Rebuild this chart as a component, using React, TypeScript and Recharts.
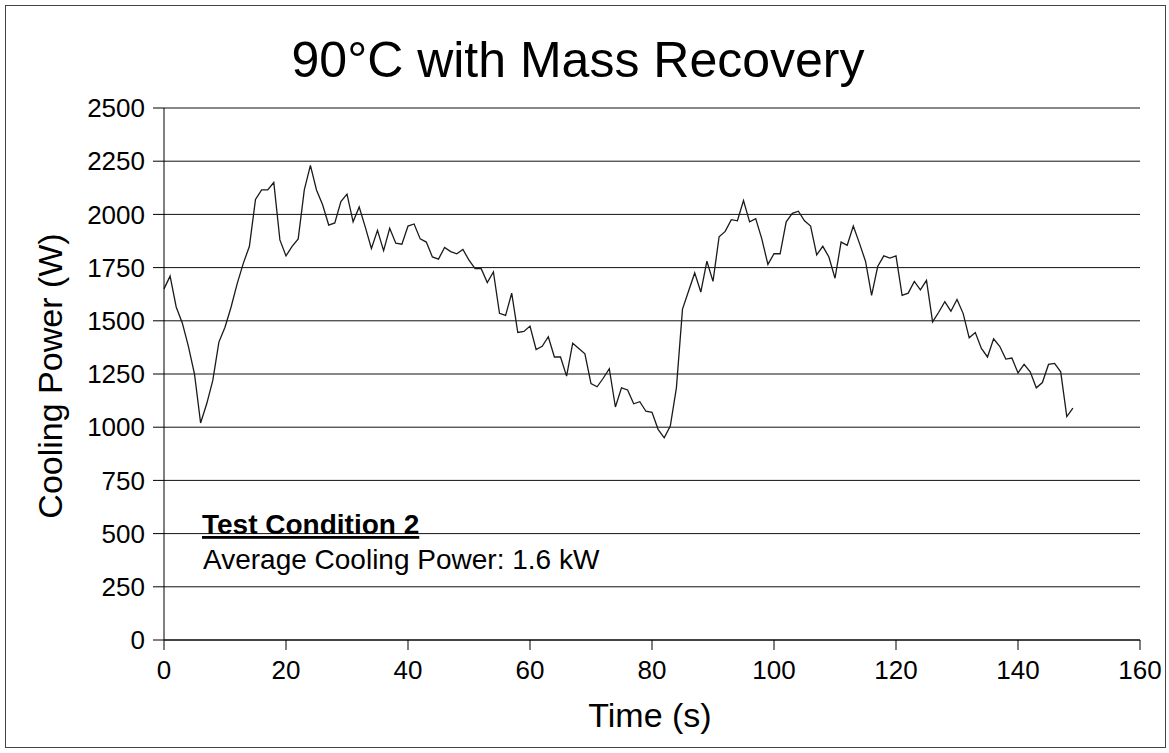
import React from 'react';
import { LineChart, Line, XAxis, YAxis, CartesianGrid, Label } from 'recharts';

const timeSeconds = [
  0, 1, 2, 3, 4, 5, 6, 7, 8, 9, 10, 11, 12, 13, 14, 15, 16, 17, 18, 19,
  20, 21, 22, 23, 24, 25, 26, 27, 28, 29, 30, 31, 32, 33, 34, 35, 36, 37, 38, 39,
  40, 41, 42, 43, 44, 45, 46, 47, 48, 49, 50, 51, 52, 53, 54, 55, 56, 57, 58, 59,
  60, 61, 62, 63, 64, 65, 66, 67, 68, 69, 70, 71, 72, 73, 74, 75, 76, 77, 78, 79,
  80, 81, 82, 83, 84, 85, 86, 87, 88, 89, 90, 91, 92, 93, 94, 95, 96, 97, 98, 99,
  100, 101, 102, 103, 104, 105, 106, 107, 108, 109, 110, 111, 112, 113, 114, 115, 116, 117, 118, 119,
  120, 121, 122, 123, 124, 125, 126, 127, 128, 129, 130, 131, 132, 133, 134, 135, 136, 137, 138, 139,
  140, 141, 142, 143, 144, 145, 146, 147, 148, 149,
];

const coolingPower = [
  1650, 1710, 1565, 1490, 1380, 1250, 1020, 1110, 1220, 1400,
  1470, 1565, 1675, 1770, 1850, 2070, 2115, 2115, 2150, 1880,
  1805, 1850, 1885, 2115, 2230, 2115, 2045, 1950, 1960, 2060,
  2095, 1965, 2035, 1940, 1840, 1925, 1830, 1935, 1865, 1860,
  1945, 1955, 1885, 1870, 1800, 1790, 1845, 1825, 1815, 1835,
  1785, 1745, 1745, 1680, 1730, 1535, 1525, 1630, 1445, 1450,
  1475, 1365, 1380, 1425, 1330, 1330, 1240, 1395, 1370, 1345,
  1205, 1190, 1230, 1275, 1095, 1185, 1175, 1110, 1120, 1075,
  1070, 990, 950, 1005, 1185, 1555, 1640, 1725, 1635, 1780,
  1685, 1895, 1920, 1975, 1970, 2065, 1965, 1980, 1885, 1765,
  1815, 1815, 1965, 2005, 2015, 1970, 1945, 1810, 1850, 1800,
  1700, 1870, 1855, 1945, 1865, 1780, 1620, 1755, 1805, 1795,
  1805, 1620, 1630, 1685, 1645, 1690, 1495, 1540, 1590, 1545,
  1600, 1535, 1420, 1445, 1370, 1330, 1415, 1380, 1320, 1325,
  1255, 1295, 1260, 1185, 1210, 1295, 1300, 1260, 1050, 1090,
];

const xTicks = [0, 20, 40, 60, 80, 100, 120, 140, 160];
const yTicks = [0, 250, 500, 750, 1000, 1250, 1500, 1750, 2000, 2250, 2500];

const titleText = '90°C with Mass Recovery';
const xLabelText = 'Time (s)';
const yLabelText = 'Cooling Power (W)';
const noteTitle = 'Test Condition 2';
const noteBody = 'Average Cooling Power: 1.6 kW';

const data = timeSeconds.map((t, i) => ({ t, p: coolingPower[i] }));

const FONT = '"Liberation Sans", Arial, Helvetica, sans-serif';

export default function App() {
  return (
    <div
      style={{
        position: 'absolute',
        left: 0,
        top: 0,
        width: 1169,
        height: 753,
        background: '#fff',
        fontFamily: FONT,
      }}
    >
      <LineChart
        width={1169}
        height={753}
        data={data}
        margin={{ top: 108, right: 29, bottom: 0, left: 0 }}
      >
        <CartesianGrid horizontal vertical={false} stroke="#111" strokeWidth={1} />
        <XAxis
          dataKey="t"
          type="number"
          domain={[0, 160]}
          ticks={xTicks}
          interval={0}
          height={113}
          tickSize={10}
          tickMargin={11}
          axisLine={{ stroke: '#000', strokeWidth: 1 }}
          tickLine={{ stroke: '#000', strokeWidth: 1 }}
          tick={{ fill: '#000', fontSize: 26, fontFamily: FONT }}
        >
          <Label
            content={() => (
              <text
                x={650}
                y={727}
                textAnchor="middle"
                fontSize={34}
                fontFamily={FONT}
                fill="#000"
              >
                {xLabelText}
              </text>
            )}
          />
        </XAxis>
        <YAxis
          type="number"
          domain={[0, 2500]}
          ticks={yTicks}
          interval={0}
          width={164}
          tickSize={11}
          tickMargin={8}
          axisLine={{ stroke: '#000', strokeWidth: 1 }}
          tickLine={{ stroke: '#000', strokeWidth: 1 }}
          tick={{ fill: '#000', fontSize: 26, fontFamily: FONT }}
        >
          <Label
            content={() => (
              <text
                x={62}
                y={376}
                transform="rotate(-90, 62, 376)"
                textAnchor="middle"
                fontSize={34}
                fontFamily={FONT}
                fill="#000"
              >
                {yLabelText}
              </text>
            )}
          />
        </YAxis>
        <Line
          type="linear"
          dataKey="p"
          stroke="#1a1a1a"
          strokeWidth={1.3}
          dot={false}
          activeDot={false}
          isAnimationActive={false}
        />
      </LineChart>
      <svg
        width={1169}
        height={753}
        style={{ position: 'absolute', left: 0, top: 0, pointerEvents: 'none' }}
      >
        <rect x={5.5} y={5.5} width={1160} height={742} fill="none" stroke="#444" strokeWidth={1} />
        <text x={578} y={77} textAnchor="middle" fontSize={50} fontFamily={FONT} fill="#000">
          {titleText}
        </text>
        <text
          x={202}
          y={534}
          fontSize={28}
          fontWeight="bold"
          fontFamily={FONT}
          fill="#000"
          textDecoration="underline"
        >
          {noteTitle}
        </text>
        <text x={203} y={569} fontSize={28} fontFamily={FONT} fill="#000">
          {noteBody}
        </text>
      </svg>
    </div>
  );
}
